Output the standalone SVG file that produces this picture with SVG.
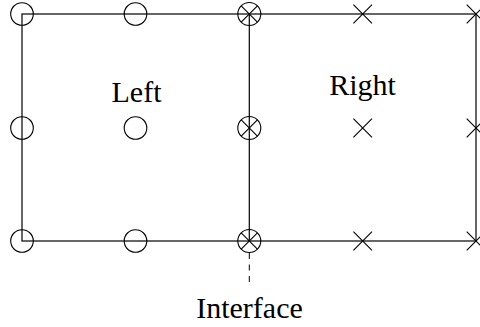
<svg xmlns="http://www.w3.org/2000/svg" width="480" height="327" viewBox="0 0 480 327">
  <style>
    .edge { stroke: #000; stroke-width: 1.2; fill: none; }
    .dash { stroke: #000; stroke-width: 1; fill: none; stroke-dasharray: 6 5.5; }
    .mark { stroke: #000; stroke-width: 1.1; fill: none; }
    .label { font-family: "Liberation Serif", "DejaVu Serif", serif; font-size: 30px; fill: #000; text-anchor: middle; }
  </style>
  <defs>
    <circle id="o" r="11.3" class="mark"/>
    <path id="x" d="M-9.3,-9.3 L9.3,9.3 M-9.3,9.3 L9.3,-9.3" class="mark"/>
    <g id="ox">
      <circle r="11.5" class="mark"/>
      <path d="M-8.1,-8.1 L8.1,8.1 M-8.1,8.1 L8.1,-8.1" class="mark"/>
    </g>
  </defs>

  <!-- cell outlines and the interface lead -->
  <g id="connectors">
    <rect x="22" y="14" width="454" height="227" class="edge"/>
    <line x1="249.3" y1="14" x2="249.3" y2="241" class="edge"/>
    <line x1="249.3" y1="253" x2="249.3" y2="287" class="dash"/>
  </g>

  <!-- left cell nodes -->
  <g id="left-nodes">
    <use href="#o" x="22" y="14"/>
    <use href="#o" x="135.5" y="14"/>
    <use href="#o" x="22" y="128"/>
    <use href="#o" x="135.5" y="128"/>
    <use href="#o" x="22" y="241"/>
    <use href="#o" x="135.5" y="241"/>
  </g>

  <!-- shared interface nodes -->
  <g id="interface-nodes">
    <use href="#ox" x="249.3" y="14"/>
    <use href="#ox" x="249.3" y="128"/>
    <use href="#ox" x="249.3" y="241"/>
  </g>

  <!-- right cell nodes -->
  <g id="right-nodes">
    <use href="#x" x="362.7" y="14"/>
    <use href="#x" x="476" y="14"/>
    <use href="#x" x="362.7" y="128"/>
    <use href="#x" x="476" y="128"/>
    <use href="#x" x="362.7" y="241"/>
    <use href="#x" x="476" y="241"/>
  </g>

  <g id="labels">
    <text id="left" class="label" x="136.5" y="101.5">Left</text>
    <text id="right" class="label" x="362.5" y="95">Right</text>
    <text id="interface" class="label" x="249.5" y="318">Interface</text>
  </g>
</svg>
